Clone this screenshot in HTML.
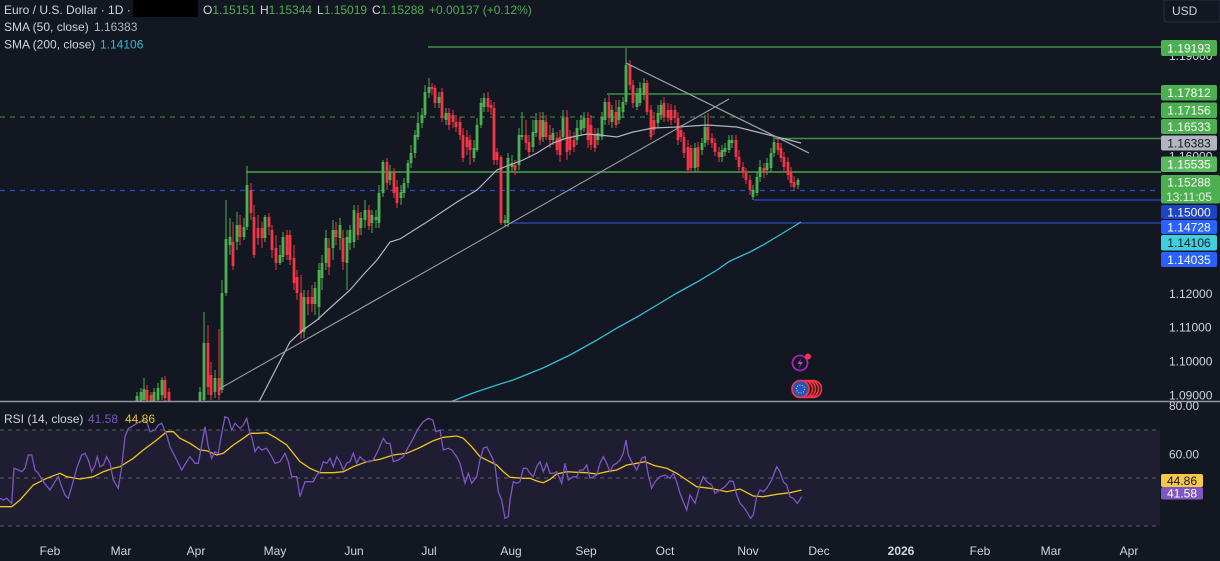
<!DOCTYPE html>
<html><head><meta charset="utf-8"><style>
html,body{margin:0;padding:0;background:#131722;width:1220px;height:561px;overflow:hidden}
svg{display:block}
text{font-family:"Liberation Sans",Arial,sans-serif}
</style></head><body>
<svg id="s" width="1220" height="561" viewBox="0 0 1220 561" xmlns="http://www.w3.org/2000/svg">
<defs><clipPath id="pp"><rect x="0" y="0" width="1160" height="401"/></clipPath></defs>
<rect width="1220" height="561" fill="#131722"/>
<!-- RSI band -->
<rect x="0" y="430" width="1160" height="96" fill="#1e1d32"/>
<g stroke="#5d606b" stroke-width="1" stroke-dasharray="4,4">
<line x1="0" y1="430" x2="1160" y2="430"/><line x1="0" y1="478" x2="1160" y2="478"/><line x1="0" y1="526" x2="1160" y2="526"/>
</g>
<!-- horizontal levels -->
<g fill="none">
<line x1="0" y1="117" x2="1160" y2="117" stroke="#4caf50" stroke-opacity="0.8" stroke-width="1" stroke-dasharray="5,5"/>
<line x1="0" y1="190.5" x2="1160" y2="190.5" stroke="#2a4db5" stroke-width="1.2" stroke-dasharray="5,5"/>
<line x1="428" y1="47" x2="1161" y2="47" stroke="#4caf50" stroke-opacity="0.8" stroke-width="1.5"/>
<line x1="607" y1="94" x2="1161" y2="94" stroke="#4caf50" stroke-opacity="0.8" stroke-width="1.5"/>
<line x1="775" y1="138.5" x2="1161" y2="138.5" stroke="#4caf50" stroke-opacity="0.8" stroke-width="1.5"/>
<line x1="246" y1="172" x2="1161" y2="172" stroke="#4caf50" stroke-opacity="0.8" stroke-width="1.8"/>
<line x1="754" y1="200" x2="1161" y2="200" stroke="#2541a8" stroke-width="1.5"/>
<line x1="511" y1="223" x2="1161" y2="223" stroke="#2541a8" stroke-width="1.5"/>
</g>
<g id="candles" clip-path="url(#pp)"></g>
<g clip-path="url(#pp)" fill="none">
<polyline stroke="#2fbfd0" stroke-width="1.3" points="450,402 473,393 497,385 513,380 543,368 570,355 597,340 617,328 637,317 657,305 677,293 697,282 717,270 730,261 750,252 763,245 783,233 801,222"/>
<polyline stroke="#b2b5be" stroke-width="1.2" points="259,402 277,367 290,342 303,330 317,320 330,308 350,290 363,275 377,260 390,242 400,239 430,220 457,202 477,190 487,180 497,170 507,166 523,160 537,153 553,143 567,138 587,134 600,135 617,137 633,132 653,128 677,127 707,125 737,127 757,132 777,137 801,143"/>
<line x1="219" y1="389" x2="729" y2="99" stroke="#9a9ca3" stroke-width="1.1"/>
<line x1="626" y1="63" x2="809" y2="153" stroke="#9a9ca3" stroke-width="1.3"/>
</g>
<!-- icons -->
<g>
<circle cx="800" cy="363" r="7.5" fill="#1a1426" stroke="#9c27b0" stroke-width="1.8"/>
<path d="M801.5,358 L797.5,364 L800.5,364 L798.5,368.5 L803,362 L800,362 Z" fill="#b04fd0"/>
<circle cx="808" cy="356.5" r="3" fill="#f23645"/>
<circle cx="813" cy="389" r="8.5" fill="#2a1418" stroke="#f23645" stroke-width="1.6"/>
<circle cx="810" cy="389" r="8.5" fill="#2a1418" stroke="#f23645" stroke-width="1.6"/>
<circle cx="807" cy="389" r="8.5" fill="#2a1418" stroke="#f23645" stroke-width="1.6"/>
<circle cx="804" cy="389" r="8.5" fill="#2a1418" stroke="#f23645" stroke-width="1.6"/>
<circle cx="800.5" cy="389" r="8.5" fill="#1f56c8" stroke="#f23645" stroke-width="1.8"/>
<circle cx="800.5" cy="389" r="4" fill="none" stroke="#f5d33a" stroke-width="1" stroke-dasharray="1,1.5"/>
</g>
<!-- RSI lines -->
<g fill="none">
<polyline stroke="#f0c419" stroke-width="1.3" points="0,506.7 11.7,506.7 20,500 33.3,485 46.7,478.3 60,473.3 66.7,476.7 80,479 93.3,476.7 103.3,471.7 113.3,468.3 120,466.7 133.3,458.3 143.3,450 156.7,440 166.7,431.7 173.3,431.7 180,438.3 190,443.3 200,450 206.7,450.7 216.7,455 223.3,453.3 233.3,445 243.3,438.3 250,433.3 256.7,433.3 266.7,432.7 276.7,438.3 286.7,445 300,461.7 310,468.3 320,472.7 333.3,472.7 343.3,471.7 353.3,466.7 366.7,461.7 380,459.3 393.3,455 406.7,453.3 420,447.5 433.3,440.7 443.3,437.3 456.7,436 463.3,438.3 471.7,446.7 480,456.7 490,461.7 496.7,465 503.3,471.7 510,477.3 523.3,478.3 530,478.3 536.7,481 543.3,482.7 550,479.3 556.7,474 566.7,471.7 576.7,472.3 586.7,472.7 596.7,474 606.7,471.7 616.7,470 626.7,465 636.7,463.3 645,461.7 655,465.7 666.7,468.3 676.7,473.3 686.7,480 696.7,486.7 710,488.3 726.7,491.7 740,489 753.3,496 763.3,496.7 776.7,494.3 790,492.7 801.7,490"/>
<polyline stroke="#7e57c2" stroke-width="1.3" points="0,498.3 3.3,500 6.7,498.3 10,501.7 11.7,503.3 14,468.3 18.3,470 21.7,471.7 25,468.3 28.3,455 31.7,455 35,470 38.3,473.3 43.3,481.7 50,490 55,481.7 58.3,476.7 61.7,486.7 65,495 68.3,498.3 71.7,486.7 76.7,468.3 81.7,455 85,453.3 88.3,460 91.7,471.7 95,465 97.3,456.7 100,466.7 103.3,465 106.7,456.7 110,463.3 113.3,480 118.3,488.3 121.7,466.7 125,436.7 128.3,428.3 131.7,426.7 136.7,423.3 143.3,420 146.7,421.7 150,431.7 155,430 158.3,425 161.7,423.3 166.7,435 170,446.7 175,456.7 181.7,470 186.7,461.7 190,456.7 195,463.3 198.3,463.3 201.7,445 205,426.7 208.3,446.7 211.7,458.3 215,451.7 218.3,453.3 221.7,433.3 225,416.7 228.3,418.3 231.7,430 235,423.3 240,428.3 243.3,425 246.7,418.3 250,433.3 251.7,436.7 255,451.7 258.3,446.7 261.7,450 266.7,448.3 271.7,456.7 275,463.3 280,461.7 285,453.3 288.3,461.7 291.7,476.7 296.7,476.7 300,496.7 305,481.7 308.3,481.7 313.3,481.7 316.7,475 320,471.7 323.3,461.7 326.7,463.3 330,458.3 333.3,466.7 336.7,456.7 340,461.7 343.3,470 346.7,463.3 350,461.7 353.3,453.3 356.7,463.3 360,456.7 363.3,460 366.7,461.7 370,461.7 373.3,460 378.3,450 383.3,438.3 386.7,443.3 390,443.3 393.3,461.7 398.3,460 403.3,456.7 406.7,450 413.3,438.3 418.3,428.3 423.3,421.7 428.3,418.3 432.7,420 436,431.7 440,430 443.3,450 448.3,448.3 451.7,450 456.7,456.7 460,463.3 465,483.3 468.3,473.3 471.7,483.3 476.7,476.7 480,460 483.3,448.3 486.7,446.7 491.7,456.7 495,465 498.3,491.7 501.7,500 505,518.3 508.3,516.7 510,500 513.3,481.7 516.7,483.3 520,481.7 523.3,468.3 526.7,468.3 530,473.3 533.3,476.7 536.7,466.7 540,461.7 543.3,471.7 546.7,463.3 550,473.3 553.3,473.3 556.7,471.7 561.7,483.3 565,463.3 568.3,480 573.3,476.7 576.7,476.7 580,470 583.3,470 586.7,465 590,478.3 593.3,476.7 596.7,475 600,463.3 603.3,456.7 606.7,463.3 610,471.7 613.3,465 616.7,463.3 620,460 623.3,453.3 626,440 628.3,455 631.7,461.7 636.7,470 641.7,458.3 645,456.7 648.3,475 651.7,488.3 655,481.7 660,476.7 665,475 670,478.3 673.3,473.3 676.7,481.7 680,493.3 683.3,501.7 686.7,510 690,495 695,503.3 700,485 703.3,476.7 706.7,481.7 711.7,485 715,493.3 720,490 725,486.7 730,480.7 733.3,481.7 736.7,495 740,503.3 743.3,506.7 746.7,511.7 750.7,518.3 753.3,515 756.7,496.7 760,490 763.3,491.7 766.7,488.3 771.7,480 776.7,466.7 780,471.7 783.3,481.7 786.7,485 790,496.7 793.3,498.3 797.3,503.3 801.7,496.7"/>
</g>
<!-- pane separator -->
<line x1="0" y1="401.5" x2="1220" y2="401.5" stroke="#9598a1" stroke-width="1.5"/>
<!-- legend -->
<rect x="133" y="0" width="65" height="17" fill="#000"/>
<text y="14" font-size="12" fill="#d1d4dc"><tspan x="4">Euro / U.S. Dollar · 1D ·</tspan><tspan x="203">O</tspan><tspan fill="#4caf50">1.15151</tspan><tspan x="260">H</tspan><tspan fill="#4caf50">1.15344</tspan><tspan x="317">L</tspan><tspan fill="#4caf50">1.15019</tspan><tspan x="372">C</tspan><tspan fill="#4caf50">1.15288</tspan><tspan x="429" fill="#4caf50">+0.00137 (+0.12%)</tspan></text>
<text x="4" y="31" font-size="12" fill="#d1d4dc">SMA (50, close) <tspan x="94" fill="#b2b5be">1.16383</tspan></text>
<text x="4" y="48.5" font-size="12" fill="#d1d4dc">SMA (200, close) <tspan x="100" fill="#2fbfd0">1.14106</tspan></text>
<text x="4" y="423" font-size="12" fill="#d1d4dc">RSI (14, close) <tspan x="88" fill="#7e57c2">41.58</tspan><tspan x="125" fill="#f0c419">44.86</tspan></text>
<!-- price axis ticks -->
<g font-size="12" fill="#d1d4dc">
<text x="1169" y="60">1.19000</text><text x="1169" y="160.5">1.16000</text>
<text x="1169" y="298">1.12000</text><text x="1169" y="331.5">1.11000</text><text x="1169" y="365.5">1.10000</text><text x="1169" y="399.5">1.09000</text>
<text x="1169" y="410">80.00</text><text x="1169" y="458.5">60.00</text>
</g>
<!-- USD box -->
<path d="M1164,0 L1220,0 L1220,22 L1168,22 Q1164,22 1164,18 Z" fill="#131722" stroke="#2a2e39" stroke-width="1"/>
<text x="1172" y="15" font-size="12" fill="#d1d4dc">USD</text>
<!-- price labels -->
<g font-size="12" text-anchor="middle">
<rect x="1161" y="40" width="56" height="16" rx="2" fill="#4caf50"/><text x="1189" y="52.5" fill="#fff">1.19193</text>
<rect x="1161" y="85" width="56" height="15.5" rx="2" fill="#4caf50"/><text x="1189" y="97" fill="#fff">1.17812</text>
<rect x="1161" y="102.5" width="56" height="15.5" rx="2" fill="#4caf50"/><text x="1189" y="114.5" fill="#fff">1.17156</text>
<rect x="1161" y="119" width="56" height="15" rx="2" fill="#4caf50"/><text x="1189" y="131" fill="#fff">1.16533</text>
<rect x="1161" y="135.5" width="56" height="15" rx="2" fill="#b2b5be"/><text x="1189" y="147.5" fill="#131722">1.16383</text>
<rect x="1161" y="156.5" width="56" height="15.5" rx="2" fill="#5cb860"/><text x="1189" y="168.5" fill="#fff">1.15535</text>
<rect x="1161" y="175" width="59" height="28.5" rx="2" fill="#4caf50"/><text x="1189" y="186.5" fill="#fff">1.15288</text><text x="1189" y="201" fill="#e8f5e9">13:11:05</text>
<rect x="1161" y="205" width="56" height="14" rx="2" fill="#1c44c4"/><text x="1189" y="216.5" fill="#fff">1.15000</text>
<rect x="1161" y="220" width="56" height="14" rx="2" fill="#2962ff"/><text x="1189" y="231.5" fill="#fff">1.14728</text>
<rect x="1161" y="235" width="56" height="15.5" rx="2" fill="#3fd0e0"/><text x="1189" y="247" fill="#131722">1.14106</text>
<rect x="1161" y="252" width="56" height="15" rx="2" fill="#2962ff"/><text x="1189" y="264" fill="#fff">1.14035</text>
<rect x="1161" y="474" width="42" height="13" rx="2" fill="#f7c948"/><text x="1182" y="485" fill="#131722">44.86</text>
<rect x="1161" y="487" width="42" height="12.5" rx="2" fill="#7e57c2"/><text x="1182" y="497.5" fill="#fff">41.58</text>
</g>
<!-- time axis -->
<g font-size="12" fill="#d1d4dc" text-anchor="middle">
<text x="50" y="555">Feb</text><text x="121" y="555">Mar</text><text x="196" y="555">Apr</text><text x="275" y="555">May</text><text x="354" y="555">Jun</text><text x="429" y="555">Jul</text><text x="511" y="555">Aug</text><text x="586" y="555">Sep</text><text x="665" y="555">Oct</text><text x="748" y="555">Nov</text><text x="819" y="555">Dec</text><text x="901" y="555" font-weight="bold">2026</text><text x="980" y="555">Feb</text><text x="1051" y="555">Mar</text><text x="1129" y="555">Apr</text>
</g>
</svg>
<script>
var D=`137 g 396 402 392 405
141 g 392 402 388 405
144 g 389 400 378 405
147 r 390 402 385 405
151 r 395 402 392 405
154 g 392 402 388 405
158 g 388 400 383 405
162 g 380 395 377 400
165 r 380 398 376 402
169 r 392 402 388 405
200 g 392 402 387 405
204 g 343 400 312 402
208 r 343 387 325 395
211 r 375 395 362 400
215 g 378 392 370 398
219 r 378 395 329 400
222 g 293 390 280 393
226 g 239 293 200 296
230 g 237 245 218 255
233 r 242 266 222 270
237 g 225 242 212 250
240 r 225 237 215 245
244 g 227 237 218 240
247 g 185 227 166 230
251 r 190 213 183 220
254 r 217 255 205 258
258 r 228 238 215 245
262 r 228 238 222 248
265 g 217 238 215 242
269 r 217 227 213 235
272 r 230 250 225 258
276 r 248 263 235 270
280 g 255 263 245 265
283 g 237 257 232 262
287 r 235 255 230 260
290 r 235 260 230 265
294 r 258 283 245 290
297 r 277 293 270 300
301 r 293 333 275 339
304 g 297 332 290 338
308 r 297 304 290 315
312 r 297 304 285 312
315 g 288 304 282 315
319 g 270 307 263 320
322 g 263 278 255 290
326 g 238 263 230 270
329 r 248 267 238 275
333 g 230 248 220 260
336 r 230 237 222 245
340 g 225 238 218 250
343 r 238 262 230 270
347 g 237 263 230 290
350 g 230 243 225 250
354 g 210 242 205 248
358 r 213 235 205 240
361 g 218 228 212 235
365 g 210 220 200 228
369 r 210 226 205 230
372 g 215 223 210 233
376 g 217 220 210 228
379 g 193 223 185 228
383 g 162 193 160 197
387 r 162 183 158 190
390 g 172 180 165 185
394 r 172 193 168 198
397 r 187 203 180 208
401 g 192 198 185 205
404 g 183 193 178 198
408 g 163 183 160 188
411 g 153 163 145 168
415 g 135 153 130 158
418 g 123 137 112 140
422 g 115 123 108 128
425 g 92 115 85 118
429 g 87 93 78 98
432 r 87 89 83 95
435 r 88 103 85 108
439 g 97 103 92 108
442 r 92 118 88 122
446 g 113 120 108 125
449 r 113 125 108 130
453 r 115 122 110 128
456 r 122 127 115 132
460 r 122 135 117 140
463 r 135 158 128 162
467 r 137 147 130 155
470 r 140 150 135 165
474 g 148 158 140 162
477 g 125 150 118 152
481 g 103 125 98 128
484 g 98 107 93 112
488 r 98 107 92 112
491 r 105 108 100 115
494 r 108 160 102 165
497 r 152 160 148 165
501 r 157 223 155 225
505 g 220 223 215 226
508 g 158 223 153 227
512 g 163 167 155 172
515 r 165 170 160 175
519 g 135 165 128 170
522 g 135 137 112 140
526 r 135 143 120 150
529 r 142 152 135 158
533 g 132 147 120 152
536 g 120 133 113 137
540 r 120 140 112 145
543 g 120 137 112 142
546 r 122 137 115 140
550 r 135 140 125 148
553 g 133 140 128 145
557 r 138 150 132 155
560 r 137 155 130 162
563 g 118 137 110 140
567 r 117 152 110 160
570 r 137 150 130 155
574 r 140 147 132 152
577 g 128 140 120 145
581 g 120 130 115 135
584 g 118 128 112 132
588 r 118 140 112 148
591 r 125 145 115 150
595 r 135 148 128 152
598 g 133 140 128 145
602 g 117 137 112 140
605 g 102 120 98 125
609 r 102 118 95 125
612 g 110 122 105 128
616 r 112 125 100 128
619 g 107 120 100 124
623 g 102 112 97 118
626 g 65 102 48 105
630 r 65 85 60 90
633 r 85 103 80 108
637 g 93 107 88 110
640 g 88 103 82 106
644 g 83 95 78 100
647 r 83 112 80 115
651 r 110 137 105 140
654 r 120 130 112 135
658 g 113 123 105 128
661 g 105 115 100 120
664 r 103 117 97 122
668 r 110 118 103 122
671 r 110 120 104 125
675 r 110 118 105 123
678 r 118 140 112 145
681 r 130 137 125 142
684 r 137 153 132 158
688 r 147 170 140 173
691 r 148 168 145 172
695 g 148 168 143 172
698 r 147 167 142 172
702 g 143 150 138 155
705 g 127 143 115 147
708 r 127 140 113 145
712 r 138 143 133 148
715 r 143 152 138 156
719 r 152 157 147 162
722 g 150 157 145 162
725 g 148 152 143 156
729 g 140 150 135 153
732 g 140 143 135 148
736 r 140 157 135 160
739 r 157 167 150 172
743 r 167 173 162 178
746 r 173 180 168 184
750 r 180 190 175 195
753 g 190 197 185 200
757 g 177 193 172 196
760 g 167 177 160 182
764 r 168 173 163 178
767 g 163 170 158 175
771 g 153 168 148 172
774 g 142 153 137 157
778 r 143 150 138 155
781 r 148 158 143 162
784 r 157 167 152 172
788 r 162 175 157 180
791 r 172 183 167 187
794 r 182 187 176 191
798 g 180 185 178 189`;
var g=document.getElementById('candles'),h='';
D.split('\n').forEach(function(l){var p=l.trim().split(/\s+/);if(p.length<6)return;
var x=+p[0],c=p[1]=='g'?'#4caf50':'#f23645',t=+p[2],b=+p[3],wt=+p[4],wb=+p[5];
if(b-t<1)b=t+1;
h+='<line x1="'+x+'" y1="'+wt+'" x2="'+x+'" y2="'+wb+'" stroke="'+c+'" stroke-width="1"/>';
h+='<rect x="'+(x-1.4)+'" y="'+t+'" width="2.8" height="'+(b-t)+'" fill="'+c+'"/>';});
g.innerHTML=h;
</script>
</body></html>
